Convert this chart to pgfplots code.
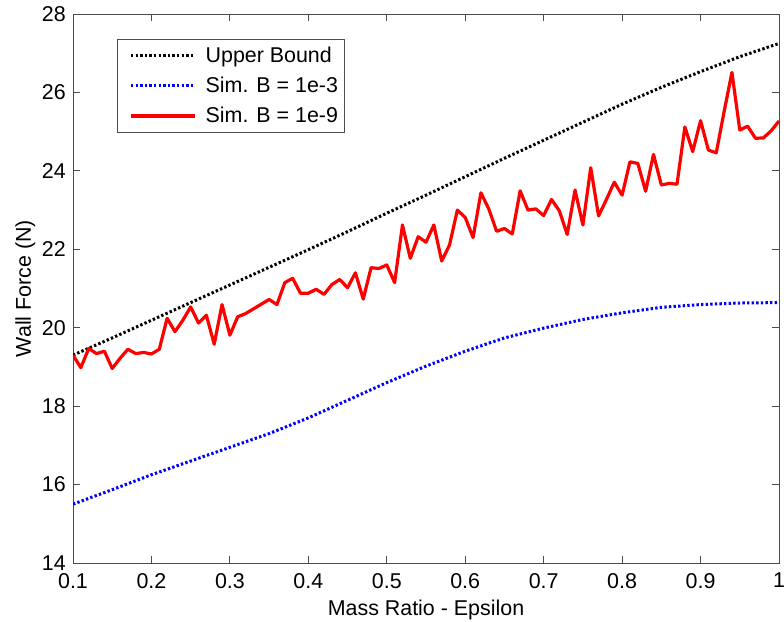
\documentclass[border=0pt]{standalone}
\usepackage{fontspec}
\setmainfont{Liberation Sans}
\usepackage{pgfplots}
\usepackage{pgfplotstable}
\pgfplotsset{compat=1.18}

\pgfplotstableread{
x y
0.10 19.30
0.15 19.74
0.20 20.19
0.25 20.64
0.30 21.09
0.35 21.54
0.40 21.99
0.45 22.45
0.50 22.92
0.55 23.38
0.60 23.85
0.65 24.32
0.70 24.78
0.75 25.24
0.80 25.70
0.85 26.13
0.90 26.53
0.95 26.91
1.00 27.25
}\upper

\pgfplotstableread{
x y
0.10 15.50
0.15 15.87
0.20 16.25
0.25 16.60
0.30 16.95
0.35 17.30
0.40 17.70
0.45 18.15
0.50 18.60
0.55 19.02
0.60 19.40
0.65 19.74
0.70 19.99
0.75 20.21
0.80 20.38
0.85 20.52
0.90 20.59
0.95 20.63
1.00 20.64
}\simA

\pgfplotstableread{
x y
0.10 19.30
0.11 18.98
0.12 19.47
0.13 19.34
0.14 19.40
0.15 18.96
0.16 19.22
0.17 19.45
0.18 19.34
0.19 19.37
0.20 19.33
0.21 19.45
0.22 20.24
0.23 19.90
0.24 20.19
0.25 20.53
0.26 20.12
0.27 20.32
0.28 19.58
0.29 20.59
0.30 19.81
0.31 20.28
0.32 20.36
0.33 20.48
0.34 20.60
0.35 20.72
0.36 20.59
0.37 21.15
0.38 21.26
0.39 20.88
0.40 20.88
0.41 20.98
0.42 20.85
0.43 21.10
0.44 21.23
0.45 21.02
0.46 21.40
0.47 20.73
0.48 21.53
0.49 21.51
0.50 21.60
0.51 21.15
0.52 22.62
0.53 21.77
0.54 22.32
0.55 22.18
0.56 22.62
0.57 21.70
0.58 22.11
0.59 23.00
0.60 22.81
0.61 22.30
0.62 23.44
0.63 23.03
0.64 22.46
0.65 22.53
0.66 22.39
0.67 23.49
0.68 23.00
0.69 23.03
0.70 22.86
0.71 23.27
0.72 22.98
0.73 22.38
0.74 23.51
0.75 22.62
0.76 24.08
0.77 22.85
0.78 23.27
0.79 23.71
0.80 23.38
0.81 24.23
0.82 24.19
0.83 23.48
0.84 24.42
0.85 23.64
0.86 23.68
0.87 23.66
0.88 25.12
0.89 24.49
0.90 25.28
0.91 24.53
0.92 24.46
0.93 25.51
0.94 26.51
0.95 25.04
0.96 25.14
0.97 24.83
0.98 24.84
0.99 25.02
1.00 25.27
}\simB

\begin{document}
\begin{tikzpicture}
\useasboundingbox (-73bp,-59bp) rectangle (711bp,563bp);
\begin{axis}[
  at={(0,0)}, anchor=south west,
  width=706bp, height=549bp, scale only axis,
  xmin=0.1, xmax=1, ymin=14, ymax=28,
  xtick={0.1,0.2,0.3,0.4,0.5,0.6,0.7,0.8,0.9,1},
  xticklabels={0.1,0.2,0.3,0.4,0.5,0.6,0.7,0.8,0.9,1},
  ytick={14,16,18,20,22,24,26,28},
  tick align=inside,
  major tick length=7bp,
  axis line style={black!70, line width=0.9bp},
  every tick/.style={black!70, line width=0.9bp},
  font=\fontsize{21.5}{25}\selectfont,
  /pgf/number format/assume math mode=true,
  xticklabel style={anchor=north, inner sep=0pt, yshift=-10bp},
  yticklabel style={anchor=east, inner sep=0pt, xshift=-7bp},
  xlabel={Mass Ratio - Epsilon},
  ylabel={Wall Force (N)},
  xlabel style={at={(axis description cs:0.5,0)}, anchor=north, inner sep=0pt, yshift=-37bp},
  ylabel style={at={(axis description cs:-0.0595,0.5)}, anchor=base, inner sep=0pt},
  legend cell align=left,
  legend style={at={(0.0623,0.9545)}, anchor=north west,
    draw=black!70, line width=0.9bp, inner xsep=4bp, inner ysep=6bp,
    row sep=9bp,
    font=\fontsize{21.5}{25}\selectfont},
  legend image code/.code={\path (-8bp,0bp); \draw[#1] (0bp,0bp) -- (64bp,0bp); \path (71bp,0bp);},
]
\addplot[black, line width=3bp, dash pattern=on 2.4bp off 2.2bp] table {\upper};
\addlegendentry{Upper Bound}
\addplot[blue, line width=3bp, dash pattern=on 2.4bp off 2.2bp] table {\simA};
\addlegendentry{Sim. B = 1e-3}
\addplot[red, line width=3.2bp, line join=round] table {\simB};
\addlegendentry{Sim. B = 1e-9}
\end{axis}
\end{tikzpicture}
\end{document}
